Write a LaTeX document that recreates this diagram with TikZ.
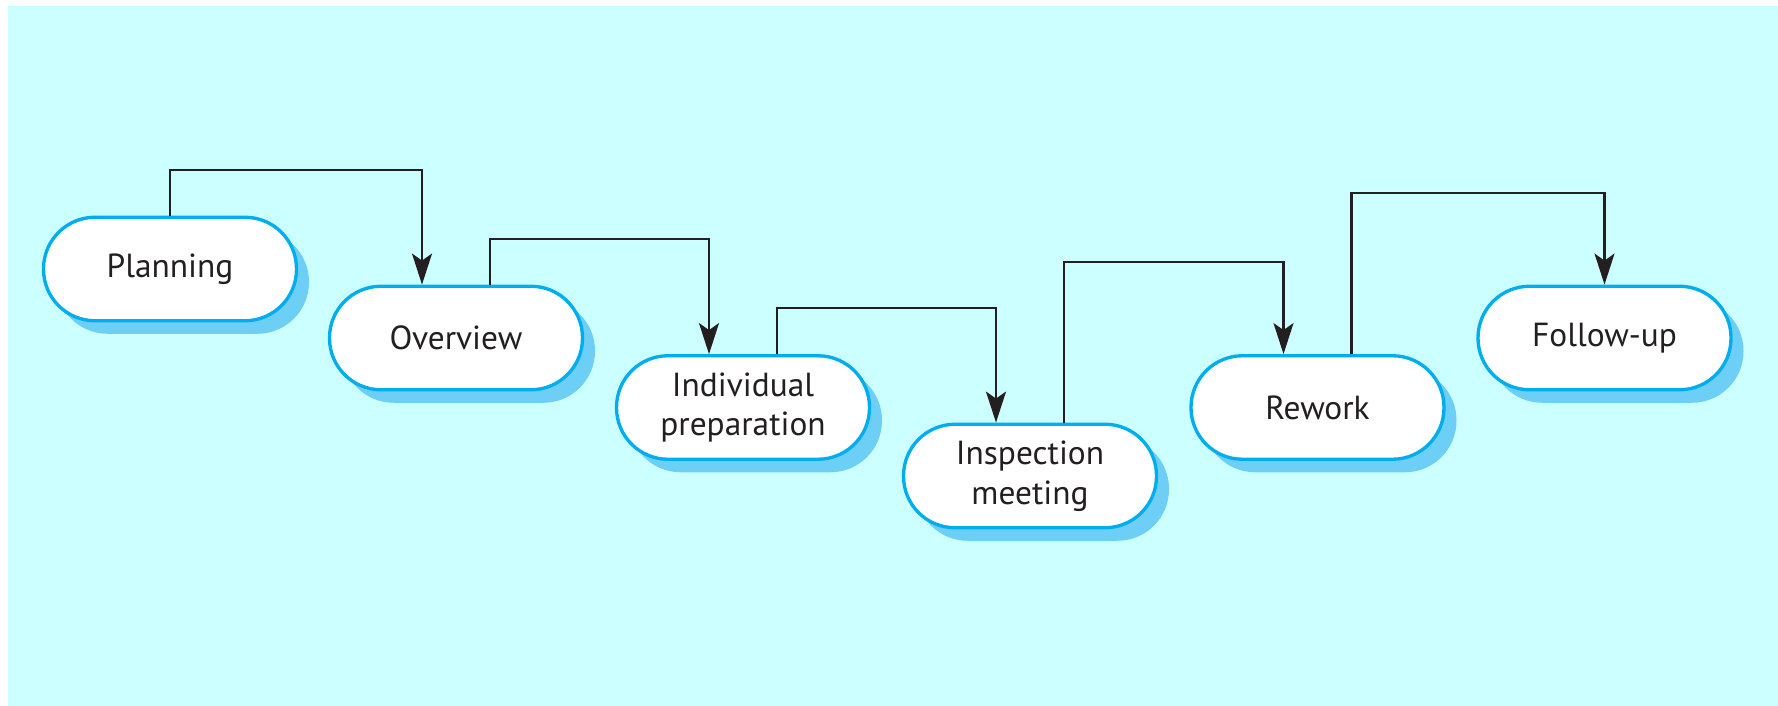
\documentclass[tikz,border=0pt]{standalone}
\usepackage{fontspec}
\setmainfont{PT Sans}
\usetikzlibrary{arrows.meta,shadows}
\definecolor{bgcyan}{RGB}{204,255,255}
\definecolor{phaseblue}{RGB}{0,174,239}
\definecolor{shadeblue}{RGB}{110,207,246}
\definecolor{inkblack}{RGB}{35,31,32}
\begin{document}
\begin{tikzpicture}[
	phase/.style={draw=phaseblue, line width=1.9pt, fill=white, rounded corners=1.03cm,
		minimum width=5.06cm, minimum height=2.07cm, align=center, text=inkblack,
		font=\fontsize{19}{22.5}\selectfont,
		drop shadow={shadow xshift=0.25cm, shadow yshift=-0.26cm, fill=shadeblue, opacity=1}},
	flow/.style={draw=inkblack, line width=1.2pt, -{Stealth[length=6.2mm,width=4mm,inset=1.4mm]}}
	]
	
	% background
	\useasboundingbox (0,0) rectangle (35.56,-14.12);
	\fill[bgcyan] (0.16,-0.12) rectangle (35.56,-14.12);
	
	% phases
	\node[phase] (plan)   at (3.40,-5.38)  {Planning};
	\node[phase] (over)   at (9.12,-6.76)  {Overview};
	\node[phase] (prep)   at (14.86,-8.15) {Individual\\preparation};
	\node[phase] (meet)   at (20.60,-9.52) {Inspection\\meeting};
	\node[phase] (rework) at (26.35,-8.15) {Rework};
	\node[phase] (follow) at (32.09,-6.76) {Follow-up};
	
	% arrows
	\draw[flow] (plan.north) -- ++(0,0.92) -| ([xshift=-6.8mm]over.north);
	\draw[flow] ([xshift=6.8mm]over.north) -- ++(0,0.92) -| ([xshift=-6.8mm]prep.north);
	\draw[flow] ([xshift=6.8mm]prep.north) -- ++(0,0.92) -| ([xshift=-6.8mm]meet.north);
	\draw[flow] ([xshift=6.8mm]meet.north) -- ++(0,3.22) -| ([xshift=-6.8mm]rework.north);
	\draw[flow] ([xshift=6.8mm]rework.north) -- ++(0,3.22) -| (follow.north);
	
\end{tikzpicture}
\end{document}
